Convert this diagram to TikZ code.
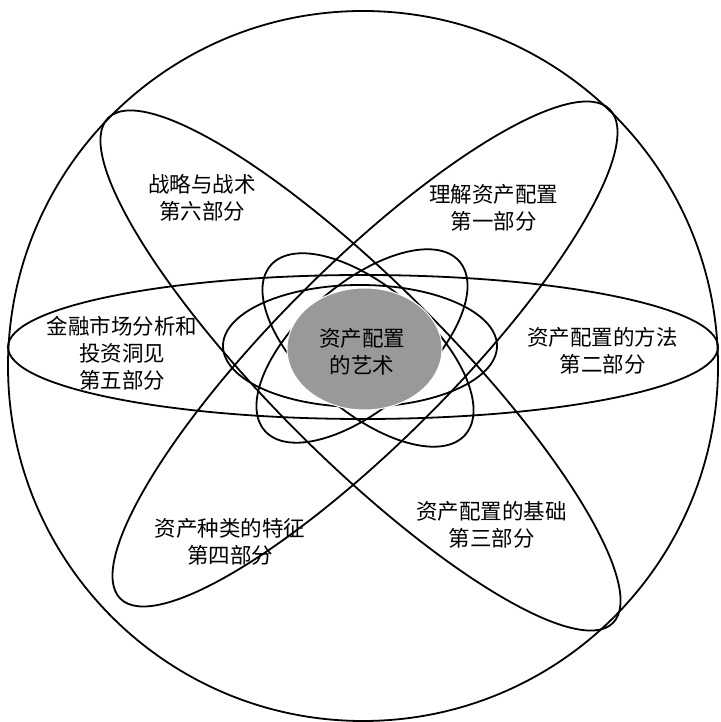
\documentclass[tikz,border=0pt]{standalone}
\usepackage{fontspec}
\newfontfamily\cjk{Noto Sans CJK SC}
\begin{document}
\begin{tikzpicture}[x=1pt,y=1pt,
  ring/.style={draw=black,line width=1.8pt},
  lbl/.style={font=\cjk\fontsize{21.5}{27}\selectfont,align=center,text=black,inner sep=0pt}]
\useasboundingbox (0,0) rectangle (720,722);
% outer circle
\draw[ring] (363,356) circle (355);
% big ellipses
\draw[ring] (363,375) ellipse (355 and 72);
\draw[ring,rotate around={45:(365,368)}] (365,368) ellipse (346 and 88);
\draw[ring,rotate around={-45:(360.5,351.5)}] (360.5,351.5) ellipse (357 and 88);
% small ellipses
\draw[ring] (360,376) ellipse (137 and 61);
\draw[ring,rotate around={41:(362,376)}] (362,376) ellipse (129 and 62);
\draw[ring,rotate around={-41:(368,372)}] (368,372) ellipse (129 and 62);
% gray core
\fill[black!40,draw=white,line width=1pt] (364.5,373) ellipse (77.5 and 61);
% labels
\node[lbl] (core) at (362,370) {资产配置\\的艺术};
\node[lbl] (p6) at (202,524.5) {战略与战术\\第六部分};
\node[lbl] (p1) at (493.6,514.5) {理解资产配置\\第一部分};
\node[lbl] (p5) at (122,369) {金融市场分析和\\投资洞见\\第五部分};
\node[lbl] (p2) at (602.5,371) {资产配置的方法\\第二部分};
\node[lbl] (p3) at (491.7,197.5) {资产配置的基础\\第三部分};
\node[lbl] (p4) at (230,180) {资产种类的特征\\第四部分};
\end{tikzpicture}
\end{document}
